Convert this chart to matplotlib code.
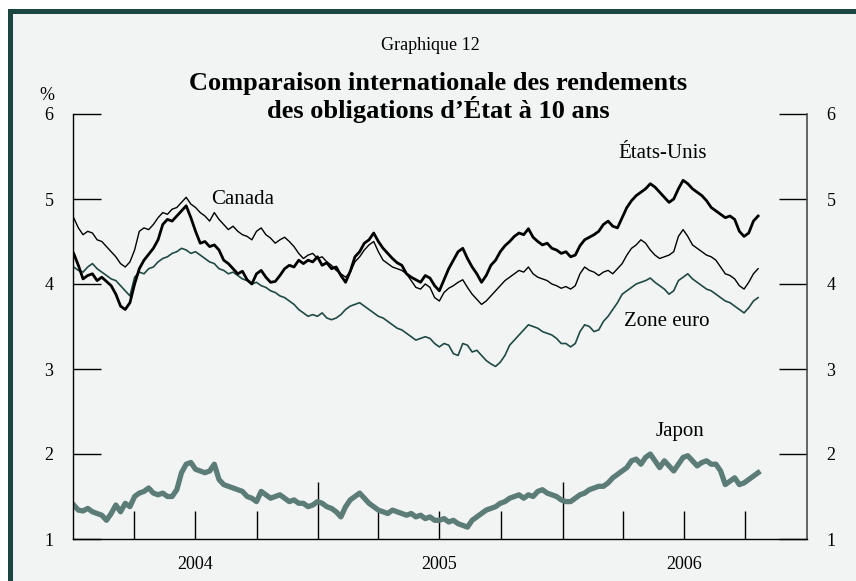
import pandas as pd
import matplotlib
matplotlib.use("Agg")
from matplotlib import pyplot as plt
import matplotlib.dates as mdates
from matplotlib.patches import Rectangle
from matplotlib.ticker import FixedLocator, FuncFormatter

# Weekly readings (Friday close), January 2004 to October 2006, in %
dates = pd.date_range("2004-01-02", periods=147, freq="7D")

etats_unis = [
    4.36, 4.22, 4.06, 4.10, 4.12, 4.04, 4.08, 4.03, 3.98, 3.88,
    3.74, 3.70, 3.78, 4.00, 4.18, 4.28, 4.35, 4.42, 4.52, 4.70,
    4.76, 4.74, 4.80, 4.86, 4.92, 4.78, 4.62, 4.48, 4.50, 4.44,
    4.46, 4.40, 4.28, 4.24, 4.18, 4.12, 4.15, 4.05, 4.00, 4.12,
    4.16, 4.08, 4.02, 4.03, 4.10, 4.18, 4.22, 4.20, 4.28, 4.24,
    4.28, 4.26, 4.32, 4.22, 4.25, 4.18, 4.20, 4.10, 4.02, 4.15,
    4.32, 4.38, 4.48, 4.52, 4.60, 4.50, 4.42, 4.36, 4.30, 4.25,
    4.22, 4.12, 4.08, 4.05, 4.02, 4.10, 4.07, 3.98, 3.92, 4.05,
    4.18, 4.28, 4.38, 4.42, 4.30, 4.20, 4.12, 4.02, 4.10, 4.22,
    4.28, 4.38, 4.45, 4.50, 4.56, 4.60, 4.58, 4.65, 4.55, 4.50,
    4.46, 4.48, 4.42, 4.40, 4.36, 4.38, 4.32, 4.34, 4.45, 4.52,
    4.55, 4.58, 4.62, 4.70, 4.74, 4.68, 4.66, 4.78, 4.90, 4.98,
    5.04, 5.08, 5.12, 5.18, 5.14, 5.08, 5.02, 4.96, 5.00, 5.12,
    5.22, 5.18, 5.12, 5.08, 5.04, 4.98, 4.90, 4.86, 4.82, 4.78,
    4.80, 4.76, 4.62, 4.56, 4.60, 4.74, 4.80,
]

canada = [
    4.78, 4.66, 4.58, 4.62, 4.60, 4.52, 4.50, 4.44, 4.38, 4.32,
    4.24, 4.20, 4.26, 4.40, 4.62, 4.66, 4.64, 4.70, 4.78, 4.84,
    4.82, 4.88, 4.90, 4.96, 5.02, 4.94, 4.90, 4.84, 4.80, 4.74,
    4.84, 4.76, 4.70, 4.64, 4.68, 4.62, 4.58, 4.56, 4.52, 4.62,
    4.66, 4.58, 4.54, 4.48, 4.52, 4.55, 4.50, 4.44, 4.36, 4.30,
    4.34, 4.36, 4.30, 4.32, 4.26, 4.22, 4.16, 4.12, 4.08, 4.14,
    4.26, 4.32, 4.40, 4.46, 4.50, 4.38, 4.28, 4.24, 4.20, 4.18,
    4.16, 4.12, 4.04, 3.96, 3.94, 4.00, 3.96, 3.84, 3.80, 3.90,
    3.95, 3.98, 4.02, 4.05, 3.96, 3.88, 3.82, 3.76, 3.80, 3.86,
    3.92, 3.98, 4.04, 4.08, 4.12, 4.16, 4.14, 4.20, 4.12, 4.08,
    4.06, 4.04, 4.00, 3.98, 3.95, 3.97, 3.94, 3.98, 4.12, 4.20,
    4.16, 4.14, 4.10, 4.14, 4.16, 4.12, 4.18, 4.24, 4.34, 4.42,
    4.46, 4.52, 4.48, 4.40, 4.34, 4.30, 4.32, 4.34, 4.38, 4.56,
    4.64, 4.56, 4.46, 4.42, 4.38, 4.34, 4.32, 4.28, 4.20, 4.12,
    4.10, 4.06, 3.98, 3.94, 4.02, 4.12, 4.18,
]

zone_euro = [
    4.20, 4.16, 4.14, 4.20, 4.24, 4.18, 4.14, 4.10, 4.06, 4.04,
    3.98, 3.92, 3.86, 4.08, 4.14, 4.12, 4.18, 4.20, 4.26, 4.30,
    4.32, 4.36, 4.38, 4.42, 4.40, 4.36, 4.38, 4.34, 4.30, 4.26,
    4.24, 4.18, 4.16, 4.12, 4.14, 4.10, 4.06, 4.04, 4.00, 4.02,
    3.98, 3.96, 3.92, 3.90, 3.86, 3.84, 3.80, 3.76, 3.70, 3.66,
    3.62, 3.64, 3.62, 3.66, 3.60, 3.58, 3.60, 3.64, 3.70, 3.74,
    3.76, 3.78, 3.74, 3.70, 3.66, 3.62, 3.60, 3.56, 3.52, 3.48,
    3.46, 3.42, 3.38, 3.34, 3.36, 3.38, 3.36, 3.30, 3.26, 3.30,
    3.28, 3.18, 3.16, 3.30, 3.28, 3.20, 3.22, 3.16, 3.10, 3.06,
    3.03, 3.08, 3.16, 3.28, 3.34, 3.40, 3.46, 3.52, 3.50, 3.48,
    3.44, 3.42, 3.40, 3.36, 3.30, 3.30, 3.26, 3.30, 3.44, 3.52,
    3.50, 3.44, 3.46, 3.56, 3.62, 3.70, 3.78, 3.88, 3.92, 3.96,
    4.00, 4.02, 4.04, 4.07, 4.02, 3.98, 3.94, 3.88, 3.92, 4.04,
    4.08, 4.12, 4.06, 4.02, 3.98, 3.94, 3.92, 3.88, 3.84, 3.80,
    3.78, 3.74, 3.70, 3.66, 3.72, 3.80, 3.84,
]

japon = [
    1.40, 1.34, 1.33, 1.36, 1.32, 1.30, 1.28, 1.22, 1.30, 1.40,
    1.32, 1.42, 1.38, 1.50, 1.54, 1.56, 1.60, 1.54, 1.52, 1.54,
    1.50, 1.50, 1.58, 1.78, 1.88, 1.90, 1.82, 1.80, 1.78, 1.80,
    1.88, 1.70, 1.64, 1.62, 1.60, 1.58, 1.56, 1.50, 1.48, 1.44,
    1.56, 1.52, 1.48, 1.50, 1.52, 1.48, 1.44, 1.46, 1.42, 1.42,
    1.38, 1.40, 1.44, 1.42, 1.38, 1.36, 1.32, 1.26, 1.38, 1.46,
    1.50, 1.54, 1.48, 1.42, 1.38, 1.34, 1.32, 1.30, 1.34, 1.32,
    1.30, 1.28, 1.30, 1.26, 1.28, 1.24, 1.26, 1.22, 1.22, 1.24,
    1.20, 1.22, 1.18, 1.16, 1.14, 1.22, 1.26, 1.30, 1.34, 1.36,
    1.38, 1.42, 1.44, 1.48, 1.50, 1.52, 1.48, 1.52, 1.50, 1.56,
    1.58, 1.54, 1.52, 1.50, 1.46, 1.44, 1.44, 1.48, 1.52, 1.54,
    1.58, 1.60, 1.62, 1.62, 1.66, 1.72, 1.76, 1.80, 1.84, 1.92,
    1.94, 1.88, 1.96, 2.00, 1.92, 1.84, 1.92, 1.86, 1.80, 1.88,
    1.96, 1.98, 1.92, 1.86, 1.90, 1.92, 1.88, 1.88, 1.80, 1.64,
    1.68, 1.72, 1.64, 1.66, 1.70, 1.74, 1.78,
]

y_ticks = [1, 2, 3, 4, 5, 6]
year_labels = ["2004", "2005", "2006"]

BG = "#f2f4f3"
BORDER = "#1b4540"
EURO_GREEN = "#1f4a45"
JAPAN_GREY = "#5c7c77"

plt.rcParams["font.family"] = ["Liberation Serif", "DejaVu Serif"]

fig = plt.figure(figsize=(8.56, 5.81), dpi=100, facecolor="white")
W, H = 856, 581
# frame: dark green edge on top and left, light grey panel (behind the axes)
fig.patches.append(Rectangle((8 / W, 0), 1, 1 - 9 / H, transform=fig.transFigure,
                             facecolor=BORDER, edgecolor="none", zorder=-10))
fig.patches.append(Rectangle((12.5 / W, 0), 1, 1 - 13.5 / H, transform=fig.transFigure,
                             facecolor=BG, edgecolor="none", zorder=-9))

ax = fig.add_axes([73 / W, 1 - 539 / H, (807 - 73) / W, (539 - 114) / H])
ax.set_facecolor("none")

ax.plot(dates, japon, color=JAPAN_GREY, lw=3.8, solid_joinstyle="round")
ax.plot(dates, zone_euro, color=EURO_GREEN, lw=1.2)
ax.plot(dates, canada, color="black", lw=1.0)
ax.plot(dates, etats_unis, color="black", lw=2.0)

ax.set_xlim(pd.Timestamp("2004-01-01"), pd.Timestamp("2007-01-01"))
ax.set_ylim(1, 6)

# spines
ax.spines["top"].set_visible(False)
ax.spines["left"].set_linewidth(1.0)
ax.spines["bottom"].set_linewidth(1.0)
ax.spines["right"].set_linewidth(1.2)
ax.spines["right"].set_color("#4a4a4a")

# y axis on both sides, ticks pointing inward
ax.set_yticks(y_ticks)
ax.tick_params(axis="y", which="both", direction="in", length=20, width=1.0,
               left=True, right=True, labelleft=True, labelright=True,
               labelsize=13, pad=14)

# x axis: long ticks at year boundaries, short ticks at quarters, year at mid-year
year_starts = [pd.Timestamp("2005-01-01"), pd.Timestamp("2006-01-01")]
quarters = [pd.Timestamp(f"{y}-{m:02d}-01") for y in (2004, 2005, 2006) for m in (4, 7, 10)]
ax.xaxis.set_major_locator(FixedLocator(mdates.date2num(year_starts)))
ax.xaxis.set_minor_locator(FixedLocator(mdates.date2num(quarters)))
ax.xaxis.set_major_formatter(FuncFormatter(lambda v, p: ""))
ax.xaxis.set_minor_formatter(FuncFormatter(
    lambda v, p: year_labels[mdates.num2date(v).year - 2004] if mdates.num2date(v).month == 7 else ""))
ax.tick_params(axis="x", which="major", direction="in", length=41, width=1.0, labelsize=13)
ax.tick_params(axis="x", which="minor", direction="in", length=20.5, width=1.0, labelsize=13, pad=12)

# titles
fig.text(430 / W, 1 - 46 / H, "Graphique 12", ha="center", va="center", fontsize=13)
fig.text(438 / W, 1 - 90 / H, "Comparaison internationale des rendements",
         ha="center", va="baseline", fontsize=19, fontweight="bold")
fig.text(438 / W, 1 - 118 / H, "des obligations d\u2019\u00c9tat \u00e0 10 ans",
         ha="center", va="baseline", fontsize=19, fontweight="bold")
fig.text(47 / W, 1 - 96 / H, "%", ha="center", va="center", fontsize=13)

# series labels
ax.text(pd.Timestamp("2004-09-10"), 4.99, "Canada", ha="center", va="center", fontsize=15)
ax.text(pd.Timestamp("2006-05-31"), 5.54, "\u00c9tats-Unis", ha="center", va="center", fontsize=15)
ax.text(pd.Timestamp("2006-06-06"), 3.56, "Zone euro", ha="center", va="center", fontsize=15)
ax.text(pd.Timestamp("2006-06-25"), 2.27, "Japon", ha="center", va="center", fontsize=15)

fig.savefig("out.png", dpi=100, facecolor=fig.get_facecolor())
